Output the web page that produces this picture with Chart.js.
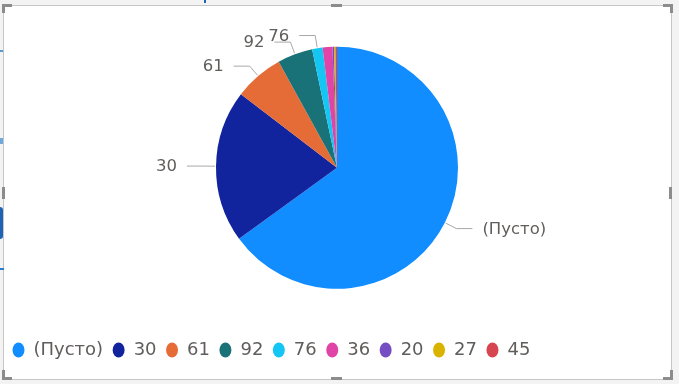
<!DOCTYPE html>
<html><head><meta charset="utf-8">
<script src="https://cdn.jsdelivr.net/npm/chart.js@4/dist/chart.umd.min.js"></script>
<style>
html,body{margin:0;padding:0;width:679px;height:384px;overflow:hidden;background:#f3f3f3;}
#frame{position:absolute;left:3px;top:5px;width:667px;height:373px;border:1px solid #c6c6c6;background:#fff;}
#wrap{position:absolute;left:0;top:0;width:679px;height:384px;}
.h{position:absolute;background:#8c8c8c;}
.b{position:absolute;}
</style></head><body>
<div id="frame"></div>
<div class="b" style="left:0;top:50px;width:3px;height:2px;background:#5b9bd5"></div>
<div class="b" style="left:0;top:138px;width:3px;height:6px;background:#6fa8dc"></div>
<div class="b" style="left:0;top:207px;width:3px;height:32px;background:#1f63b5;border-radius:0 3px 3px 0"></div>
<div class="b" style="left:0;top:268px;width:4px;height:2px;background:#2a7bd1"></div>
<div class="b" style="left:204px;top:0;width:2px;height:3px;background:#1f63b5"></div>
<div id="wrap"><canvas id="c" width="679" height="384"></canvas></div>
<div class="h" style="left:2px;top:4px;width:10px;height:3px"></div>
<div class="h" style="left:2px;top:4px;width:3px;height:9px"></div>
<div class="h" style="left:663px;top:4px;width:10px;height:3px"></div>
<div class="h" style="left:670px;top:4px;width:3px;height:9px"></div>
<div class="h" style="left:2px;top:377px;width:10px;height:3px"></div>
<div class="h" style="left:2px;top:370px;width:3px;height:10px"></div>
<div class="h" style="left:663px;top:377px;width:10px;height:3px"></div>
<div class="h" style="left:670px;top:370px;width:3px;height:10px"></div>
<div class="h" style="left:331px;top:4px;width:11px;height:3px"></div>
<div class="h" style="left:331px;top:377px;width:11px;height:3px"></div>
<div class="h" style="left:669px;top:187px;width:3px;height:12px"></div>
<div class="h" style="left:2px;top:187px;width:3px;height:12px"></div>
<script>
const categories = ['(Пусто)', '30', '61', '92', '76', '36', '20', '27', '45'];
const counts = [650, 204, 66, 47, 14, 13, 2, 2, 2];
const sliceColors = ['#118DFF', '#12239E', '#E66C37', '#197278', '#15C6F4', '#E044A7', '#744EC2', '#D9B300', '#D64550'];
const labelShown = [true, true, true, true, true, false, false, false, false];

const FONT = '"DejaVu Sans", "Noto Sans", sans-serif';
const TEXT_COLOR = '#605E5C';
const LINE_COLOR = '#A8A8A8';

const outsideLabels = {
  id: 'outsideLabels',
  afterDatasetsDraw(chart) {
    const ctx = chart.ctx;
    const meta = chart.getDatasetMeta(0);
    ctx.save();
    ctx.font = '16.5px ' + FONT;
    ctx.fillStyle = TEXT_COLOR;
    ctx.strokeStyle = LINE_COLOR;
    ctx.lineWidth = 1;
    ctx.textBaseline = 'middle';
    meta.data.forEach((arc, i) => {
      if (!labelShown[i]) return;
      const p = arc.getProps(['x', 'y', 'startAngle', 'endAngle', 'outerRadius'], true);
      const mid = (p.startAngle + p.endAngle) / 2;
      const cx = Math.cos(mid), cy = Math.sin(mid);
      const r = p.outerRadius;
      const x0 = p.x + cx * (r + 1), y0 = p.y + cy * (r + 1);
      const x1 = p.x + cx * (r + 13), y1 = p.y + cy * (r + 13);
      const side = cx >= 0 ? 1 : -1;
      const x2 = x1 + side * 16;
      ctx.beginPath();
      ctx.moveTo(x0, y0);
      ctx.lineTo(x1, y1);
      ctx.lineTo(x2, y1);
      ctx.stroke();
      ctx.textAlign = side > 0 ? 'left' : 'right';
      ctx.fillText(categories[i], x2 + side * 10, y1 + 1);
    });
    ctx.restore();
  }
};

new Chart(document.getElementById('c'), {
  type: 'pie',
  data: {
    labels: categories,
    datasets: [{
      data: counts,
      backgroundColor: sliceColors,
      borderWidth: 0,
      radius: 121
    }]
  },
  options: {
    responsive: false,
    animation: false,
    layout: { padding: { left: 3, right: 8, top: 4, bottom: 15 } },
    plugins: {
      tooltip: { enabled: false },
      legend: {
        position: 'bottom',
        align: 'start',
        labels: {
          usePointStyle: true,
          pointStyle: 'circle',
          pointStyleWidth: 12,
          boxHeight: 10.5,
          color: TEXT_COLOR,
          padding: 9.5,
          font: { size: 18, family: FONT }
        }
      }
    }
  },
  plugins: [outsideLabels]
});
</script>
</body></html>
